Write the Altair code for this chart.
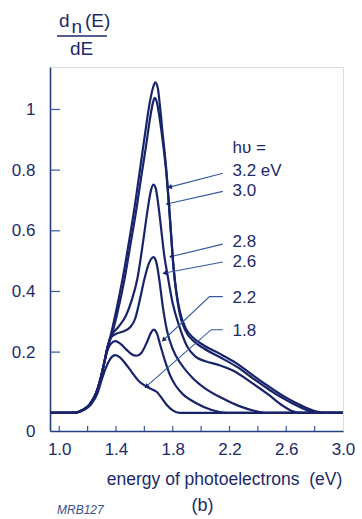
import math
import altair as alt
import pandas as pd

# ---------------- data ----------------
curve_names = ["3.2", "3.0", "2.8", "2.6", "2.2", "1.8"]

E_32 = [0.935, 1.10, 1.17, 1.215, 1.26, 1.29, 1.315, 1.34, 1.37, 1.403, 1.45, 1.492, 1.532, 1.567, 1.602,
        1.637, 1.66, 1.677, 1.695, 1.708, 1.731, 1.755, 1.773, 1.79, 1.806, 1.825, 1.85, 1.89, 1.95, 2.02,
        2.13, 2.25, 2.37, 2.48, 2.60, 2.715, 2.80, 2.86, 3.0]
V_32 = [0, 0, 0.01, 0.028, 0.065, 0.11, 0.16, 0.215, 0.27, 0.34, 0.45, 0.565, 0.68, 0.795, 0.91,
        1.02, 1.07, 1.089, 1.07, 1.02, 0.911, 0.80, 0.69, 0.58, 0.48, 0.40, 0.335, 0.28, 0.245, 0.222,
        0.195, 0.163, 0.122, 0.086, 0.05, 0.022, 0.006, 0, 0]

E_30 = [0.935, 1.10, 1.17, 1.215, 1.26, 1.29, 1.315, 1.34, 1.375, 1.41, 1.46, 1.502, 1.542, 1.577, 1.612,
        1.645, 1.662, 1.673, 1.69, 1.708, 1.731, 1.755, 1.773, 1.79, 1.806, 1.825, 1.85, 1.89, 1.95, 2.02,
        2.13, 2.25, 2.37, 2.48, 2.60, 2.70, 2.78, 2.83, 3.0]
V_30 = [0, 0, 0.01, 0.028, 0.065, 0.11, 0.16, 0.215, 0.265, 0.33, 0.44, 0.555, 0.665, 0.775, 0.88,
        0.985, 1.025, 1.038, 1.02, 0.97, 0.89, 0.79, 0.685, 0.575, 0.475, 0.395, 0.325, 0.27, 0.235, 0.212,
        0.184, 0.152, 0.112, 0.076, 0.042, 0.018, 0.004, 0, 0]

E_28 = [0.935, 1.10, 1.17, 1.215, 1.26, 1.29, 1.315, 1.34, 1.37, 1.42, 1.47, 1.51, 1.55, 1.59, 1.62,
        1.645, 1.663, 1.68, 1.70, 1.72, 1.74, 1.765, 1.80, 1.85, 1.90, 1.96, 2.03, 2.13, 2.22, 2.36,
        2.48, 2.57, 2.64, 2.70, 3.0]
V_28 = [0, 0, 0.01, 0.028, 0.065, 0.11, 0.16, 0.215, 0.255, 0.285, 0.32, 0.37, 0.44, 0.56, 0.66,
        0.73, 0.752, 0.74, 0.68, 0.60, 0.52, 0.45, 0.36, 0.28, 0.22, 0.185, 0.17, 0.157, 0.14, 0.098,
        0.058, 0.025, 0.006, 0, 0]

E_26 = [0.935, 1.10, 1.17, 1.215, 1.26, 1.29, 1.315, 1.34, 1.36, 1.40, 1.45, 1.50, 1.535, 1.567, 1.60,
        1.63, 1.665, 1.685, 1.705, 1.73, 1.76, 1.80, 1.86, 1.94, 2.03, 2.15, 2.27, 2.38, 2.46, 3.0]
V_26 = [0, 0, 0.01, 0.028, 0.065, 0.11, 0.16, 0.215, 0.245, 0.26, 0.268, 0.282, 0.31, 0.37, 0.44,
        0.49, 0.513, 0.495, 0.44, 0.35, 0.27, 0.21, 0.16, 0.115, 0.08, 0.048, 0.022, 0.006, 0, 0]

E_22 = [0.935, 1.10, 1.17, 1.215, 1.26, 1.29, 1.315, 1.34, 1.365, 1.395, 1.43, 1.47, 1.51, 1.545, 1.58,
        1.62, 1.648, 1.665, 1.69, 1.708, 1.743, 1.78, 1.82, 1.87, 1.96, 2.07, 2.18, 3.0]
V_22 = [0, 0, 0.01, 0.028, 0.065, 0.11, 0.16, 0.205, 0.228, 0.236, 0.228, 0.21, 0.193, 0.188, 0.198,
        0.235, 0.265, 0.274, 0.26, 0.23, 0.175, 0.125, 0.09, 0.062, 0.033, 0.01, 0, 0]

E_18 = [0.935, 1.10, 1.175, 1.225, 1.27, 1.30, 1.33, 1.36, 1.395, 1.43, 1.47, 1.51, 1.56, 1.61, 1.65,
        1.69, 1.72, 1.76, 1.80, 1.85, 3.0]
V_18 = [0, 0, 0.01, 0.028, 0.065, 0.11, 0.15, 0.178, 0.19, 0.182, 0.16, 0.135, 0.105, 0.088, 0.078,
        0.068, 0.05, 0.025, 0.008, 0, 0]

# annotation labels and leader lines
label_texts = ["hυ =", "3.2 eV", "3.0", "2.8", "2.6", "2.2", "1.8"]
label_E = [2.221, 2.221, 2.221, 2.221, 2.221, 2.221, 2.221]
label_V = [0.874, 0.798, 0.732, 0.564, 0.498, 0.379, 0.27]

lead_32_E, lead_32_V = [2.153, 1.778], [0.79, 0.744]
lead_30_E, lead_30_V = [2.153, 1.766], [0.73, 0.689]
lead_28_E, lead_28_V = [2.153, 1.79], [0.556, 0.515]
lead_26_E, lead_26_V = [2.153, 1.743], [0.497, 0.461]
lead_22_E, lead_22_V = [2.153, 2.059, 1.735], [0.383, 0.383, 0.24]
lead_18_E, lead_18_V = [2.153, 2.071, 1.614], [0.274, 0.274, 0.087]

x_label_vals = [1.0, 1.4, 1.8, 2.2, 2.6, 3.0]
x_tick_vals = [1.0, 1.2, 1.4, 1.6, 1.8, 2.0, 2.2, 2.4, 2.6, 2.8]
y_label_vals = [-0.06, 0.2, 0.4, 0.6, 0.8, 1.0]
y_tick_vals = [0.2, 0.4, 0.6, 0.8, 1.0]

# ---------------- build tables ----------------
series = [(E_32, V_32), (E_30, V_30), (E_28, V_28), (E_26, V_26), (E_22, V_22), (E_18, V_18)]
rows = []
for name, (E, V) in zip(curve_names, series):
    for e, v in zip(E, V):
        rows.append({"curve": name, "E": e, "V": v})
df = pd.DataFrame(rows)

leaders = [(lead_32_E, lead_32_V), (lead_30_E, lead_30_V), (lead_28_E, lead_28_V),
           (lead_26_E, lead_26_V), (lead_22_E, lead_22_V), (lead_18_E, lead_18_V)]

W, H = 293, 364
XDOM = [0.935, 3.0]
YDOM = [-0.06, 1.14]
pxE = W / (XDOM[1] - XDOM[0])
pxV = H / (YDOM[1] - YDOM[0])

lrows, arows = [], []
for name, (E, V) in zip(curve_names, leaders):
    for i, (e, v) in enumerate(zip(E, V)):
        lrows.append({"lead": name, "i": i, "E": e, "V": v})
    dx = (E[-1] - E[-2]) * pxE
    dy = -(V[-1] - V[-2]) * pxV
    ang = math.degrees(math.atan2(dy, dx)) % 360
    arows.append({"lead": name, "E": E[-1], "V": V[-1], "ang": ang})
ldf = pd.DataFrame(lrows)
adf = pd.DataFrame(arows)
tdf = pd.DataFrame({"t": label_texts, "E": label_E, "V": label_V})

NAVY = "#18236a"
TEXT = "#1b2a6a"
AXIS = "#24407f"
LIGHT = "#34599c"
FONT = "Liberation Sans"

xs = alt.Scale(domain=XDOM, nice=False, zero=False)
ys = alt.Scale(domain=YDOM, nice=False, zero=False)

x_axis = alt.Axis(values=x_label_vals, format=".1f", ticks=False, grid=False, labelFlush=False,
                  labelFontSize=17, labelPadding=10, labelColor=TEXT, labelFont=FONT,
                  domainColor=AXIS, domainWidth=1.6,
                  title="energy of photoelectrons \u00a0(eV)", titleFont=FONT, titleFontSize=17.5,
                  titleFontWeight="normal", titleColor=TEXT, titleX=174, titleY=53,
                  titleBaseline="alphabetic", titleAlign="center")
y_axis = alt.Axis(values=y_label_vals,
                  labelExpr="datum.value < 0 ? '0' : (datum.value > 0.99 ? '1' : format(datum.value, '.1f'))",
                  ticks=False, grid=False, labelFontSize=17, labelPadding=15, labelColor=TEXT,
                  labelFont=FONT, domainColor=AXIS, domainWidth=1.6, title=None)

curves = alt.Chart(df).mark_line(interpolate="monotone", strokeWidth=2.2, color=NAVY).encode(
    x=alt.X("E:Q", scale=xs, axis=x_axis),
    y=alt.Y("V:Q", scale=ys, axis=y_axis),
    detail="curve:N",
)

ytick = alt.Chart(pd.DataFrame({"v": y_tick_vals})).mark_rule(color=LIGHT, strokeWidth=1.2).encode(
    y=alt.Y("v:Q", scale=ys), x=alt.value(0), x2=alt.value(10))
xtick = alt.Chart(pd.DataFrame({"e": x_tick_vals})).mark_rule(color=LIGHT, strokeWidth=1.2).encode(
    x=alt.X("e:Q", scale=xs), y=alt.value(H), y2=alt.value(H - 5))

lead_lines = alt.Chart(ldf).mark_line(color=LIGHT, strokeWidth=1.1).encode(
    x=alt.X("E:Q", scale=xs), y=alt.Y("V:Q", scale=ys), detail="lead:N", order="i:O")
heads = alt.Chart(adf).mark_point(shape="triangle-right", filled=True, color=NAVY, size=28, opacity=1).encode(
    x=alt.X("E:Q", scale=xs), y=alt.Y("V:Q", scale=ys), angle=alt.Angle("ang:Q", scale=None))
labels = alt.Chart(tdf).mark_text(align="left", baseline="middle", fontSize=17, font=FONT, color=TEXT).encode(
    x=alt.X("E:Q", scale=xs), y=alt.Y("V:Q", scale=ys), text="t:N")

one = pd.DataFrame({"a": [0]})

def txt(s, x, y, size=19, align="left", style="normal", color=TEXT):
    return alt.Chart(one).mark_text(text=s, align=align, baseline="alphabetic", fontSize=size,
                                    font=FONT, fontStyle=style, color=color).encode(
        x=alt.value(x), y=alt.value(y))

title_parts = [
    txt("d", 9, -40),
    txt("n", 21.5, -34),
    txt("(E)", 35, -40),
    txt("dE", 31.5, -12, align="center"),
    alt.Chart(one).mark_rule(color=TEXT, strokeWidth=1.5).encode(
        x=alt.value(7), x2=alt.value(57), y=alt.value(-31)),
    txt("(b)", 152.5, 444, size=18, align="center"),
    txt("MRB127", 7, 447, size=12, style="italic", color="#3a4f8c"),
]

chart = alt.layer(curves, ytick, xtick, lead_lines, heads, labels, *title_parts).properties(
    width=W, height=H,
    autosize=alt.AutoSizeParams(type="none"),
    padding={"left": 50, "top": 67, "right": 19, "bottom": 88},
).configure_view(stroke="#3a5c9c", strokeWidth=1.4).configure(background="white")

chart.save("out.html", embed_options={"renderer": "svg", "actions": False})
